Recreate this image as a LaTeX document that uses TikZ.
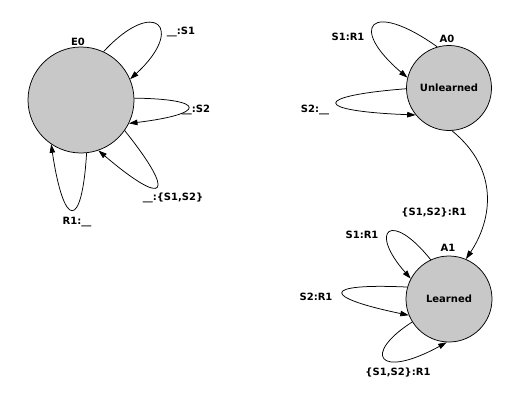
\documentclass[tikz,border=0pt]{standalone}
\usepackage{fontspec}
\setmainfont{DejaVu Sans}
\usetikzlibrary{arrows.meta}
\definecolor{stfill}{RGB}{200,200,200}
\begin{document}
\begin{tikzpicture}[x=1pt,y=-1pt,
  state/.style={circle,draw,line width=0.75pt,fill=stfill,inner sep=0pt},
  lbl/.style={font=\fontsize{10}{12}\selectfont\bfseries,inner sep=0pt},
  trans/.style={line width=0.75pt,-{Triangle[length=8.5pt,width=5.5pt]}}]
\useasboundingbox (0,0) rectangle (516,400);
\node[state,minimum size=106pt] (E0) at (81,100) {};
\node[state,minimum size=85pt,lbl] (A0) at (449,88) {Unlearned};
\node[state,minimum size=86pt,lbl] (A1) at (449,299) {Learned};
% state names
\node[lbl] (nE0) at (78,42) {E0};
\node[lbl] (nA0) at (447,39) {A0};
\node[lbl] (nA1) at (448,248) {A1};
% E0 loops
\draw[trans] (E0.65) .. controls (155,-4) and (186,28) .. (E0.23);
\draw[trans] (E0.2) .. controls (207,99) and (207,114) .. (E0.-26);
\draw[trans] (E0.-35) .. controls (177,196) and (166,208) .. (E0.-71);
\draw[trans] (E0.-84) .. controls (82,230) and (64,230) .. (E0.-124);
\node[lbl] (l1) at (181,32) {\_\_:S1};
\node[lbl] (l2) at (196,110) {\_\_:S2};
\node[lbl] (l3) at (173,198) {\_\_:\{S1,S2\}};
\node[lbl] (l4) at (77,222) {R1:\_\_};
% A0 loops
\draw[trans] (A0.106) .. controls (370,-1) and (348,27) .. (A0.166);
\draw[trans] (A0.181) .. controls (312,96) and (312,111) .. (A0.219);
\node[lbl] (l5) at (348,37) {S1:R1};
\node[lbl] (l6) at (315,110) {S2:\_\_};
% A0 -> A1
\draw[trans] (A0.-86) .. controls (500,170) and (492,220) .. (A1.67);
\node[lbl] (l7) at (434,213) {\{S1,S2\}:R1};
% A1 loops
\draw[trans] (A1.115) .. controls (391,210) and (368,230) .. (A1.152);
\draw[trans] (A1.164) .. controls (321,283) and (321,297) .. (A1.202);
\draw[trans] (A1.212) .. controls (362,354) and (378,380) .. (A1.267);
\node[lbl] (l8) at (362,235) {S1:R1};
\node[lbl] (l9) at (316,297) {S2:R1};
\node[lbl] (l10) at (398,373) {\{S1,S2\}:R1};
\end{tikzpicture}
\end{document}
